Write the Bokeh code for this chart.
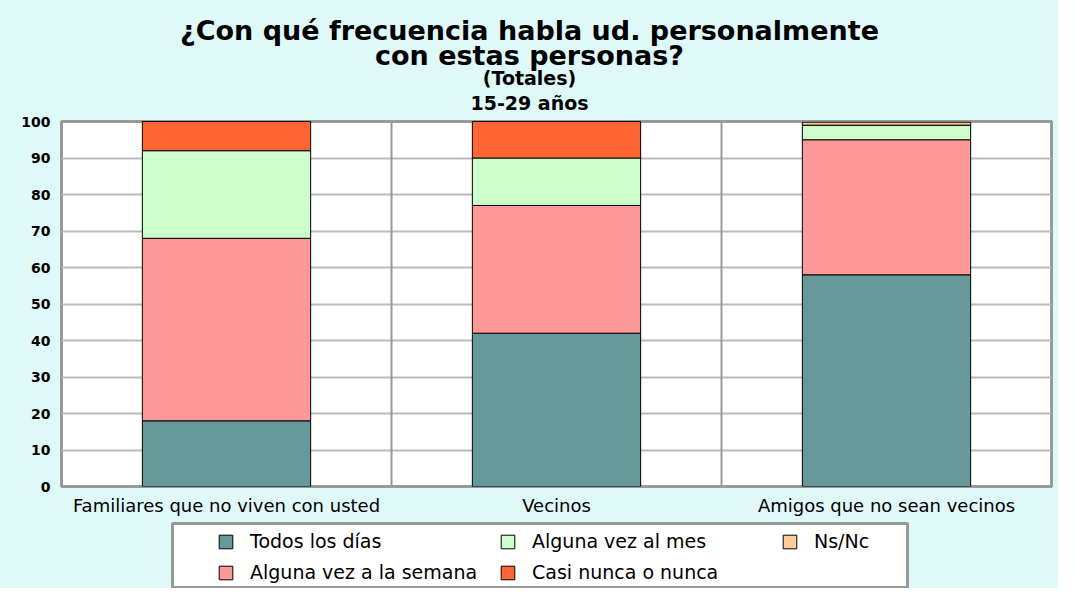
from bokeh.plotting import figure
from bokeh.layouts import column
from bokeh.core.properties import value
from bokeh.models import (ColumnDataSource, FixedTicker, Grid, Legend, LegendItem, Range1d)
from bokeh.embed import file_html
from bokeh.resources import INLINE

title_lines = ["¿Con qué frecuencia habla ud. personalmente", "con estas personas?",
               "(Totales)", "15-29 años"]
categories = ["Familiares que no viven con usted", "Vecinos", "Amigos que no sean vecinos"]
series = ["Todos los días", "Alguna vez a la semana", "Alguna vez al mes", "Casi nunca o nunca", "Ns/Nc"]
todos = [18, 42, 58]
semana = [50, 35, 37]
mes = [24, 13, 4]
casi = [8, 10, 0]
nsnc = [0, 0, 0.8]
colors = ["#669999", "#ff9999", "#ccffcc", "#ff6633", "#ffcc99"]
y_ticks = list(range(0, 101, 10))

FONT = "DejaVu Sans"
BG = "#dff8f8"
W = 1058

# ---------- title block ----------
TH = 113
p0 = figure(width=W, height=TH, output_backend="svg", toolbar_location=None,
            x_range=Range1d(0, 1), y_range=Range1d(TH, 0),
            min_border_left=0, min_border_right=0, min_border_top=0, min_border_bottom=0)
p0.frame_align = False
p0.axis.visible = False
p0.grid.visible = False
p0.outline_line_color = None
p0.background_fill_color = BG
p0.border_fill_color = BG
title_pos = [30, 55, 77, 102]          # layout: vertical centre of each line (px)
title_size = ["27px", "27px", "19px", "19px"]
tsrc = ColumnDataSource(dict(x=[0.5] * len(title_lines), y=title_pos,
                             text=title_lines, size=title_size))
p0.text(x="x", y="y", text="text", source=tsrc, text_font_size="size",
        text_align="center", text_baseline="middle", text_color="black",
        text_font=value(FONT), text_font_style="bold")

# ---------- main chart ----------
x = [i + 0.5 for i in range(len(categories))]
keys = ["todos", "semana", "mes", "casi", "nsnc"]
src = ColumnDataSource(dict(x=x, todos=todos, semana=semana, mes=mes, casi=casi, nsnc=nsnc))

p = figure(width=W, height=405, output_backend="svg", toolbar_location=None,
           x_range=Range1d(0, len(categories)), y_range=Range1d(0, 100),
           min_border_left=61, min_border_right=7, min_border_top=8, min_border_bottom=26)
p.frame_align = False
p.background_fill_color = "white"
p.border_fill_color = BG
p.outline_line_color = "#999999"
p.outline_line_width = 3

rs = p.vbar_stack(keys, x="x", width=0.51, source=src, fill_color=colors,
                  line_color="black", line_width=1)

p.xgrid.visible = False
p.ygrid.ticker = FixedTicker(ticks=y_ticks)
p.ygrid.grid_line_color = "#bbbbbb"
p.ygrid.grid_line_width = 2
p.add_layout(Grid(dimension=0, ticker=FixedTicker(ticks=list(range(1, len(categories)))),
                  grid_line_color="#999999", grid_line_width=2))

p.xaxis.ticker = FixedTicker(ticks=x)
p.xaxis.major_label_overrides = {xi: c for xi, c in zip(x, categories)}
p.yaxis.ticker = FixedTicker(ticks=y_ticks)
for ax in (p.xaxis[0], p.yaxis[0]):
    ax.axis_line_color = None
    ax.major_tick_line_color = None
    ax.minor_tick_line_color = None
    ax.major_tick_out = 0
    ax.major_tick_in = 0
    ax.minor_tick_out = 0
    ax.minor_tick_in = 0
    ax.major_label_text_font = FONT
    ax.major_label_text_color = "black"
p.xaxis.major_label_text_font_size = "18px"
p.xaxis.major_label_standoff = 8
p.yaxis.major_label_text_font_size = "14px"
p.yaxis.major_label_text_font_style = "bold"
p.yaxis.major_label_standoff = 11

# ---------- legend panel: its frame is the legend box ----------
p2 = figure(width=W, height=70, output_backend="svg", toolbar_location=None,
            x_range=Range1d(0, len(categories)), y_range=Range1d(1000, 1001),
            min_border_left=172, min_border_right=151, min_border_top=5, min_border_bottom=0)
p2.frame_align = False
p2.axis.visible = False
p2.grid.visible = False
p2.outline_line_color = "#999999"
p2.outline_line_width = 3
p2.background_fill_color = "white"
p2.border_fill_color = BG
lr = p2.vbar_stack(keys, x="x", width=0.51, source=src, fill_color=colors,
                   line_color="black", line_width=1)
items = [LegendItem(label=s, renderers=[r]) for s, r in zip(series, lr)]
legend = Legend(items=items, ncols=3, location=(45, 5),
                background_fill_alpha=0, border_line_color=None,
                label_text_font=FONT, label_text_font_size="19px", label_text_color="black",
                glyph_width=17, glyph_height=17, spacing=9, padding=0,
                label_standoff=16, label_width=240, margin=0)
p2.add_layout(legend, "center")

layout = column(p0, p, p2, spacing=0, styles={"background-color": BG})
open("out.html", "w").write(file_html(layout, INLINE))
